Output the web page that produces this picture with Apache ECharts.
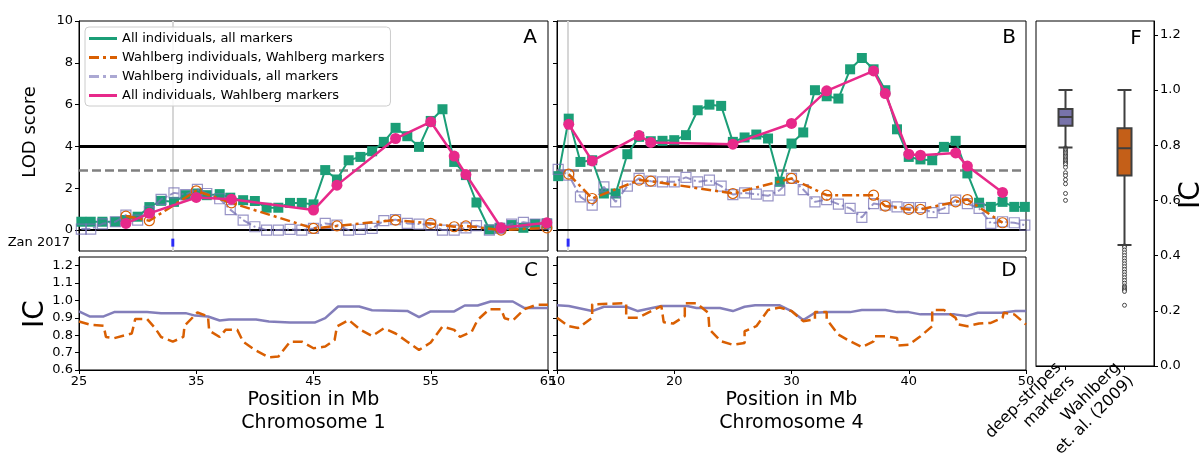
<!DOCTYPE html>
<html>
<head>
<meta charset="utf-8">
<script src="https://cdn.jsdelivr.net/npm/echarts@6/dist/echarts.min.js"></script>
<style>
  html, body { margin: 0; padding: 0; background: #fff; }
  #chart { width: 1203px; height: 461px; }
</style>
</head>
<body>
<div id="chart"></div>
<script>
// ---- data ----
// chromosome 1, LOD scores
const chr1AllPos = [25.2, 26, 27, 28.1, 29, 30, 31, 32, 33.1, 34.1, 35.1, 35.9, 37, 37.9, 39, 40, 41, 42, 43, 44, 45, 46, 47, 48, 49, 50, 51, 52, 53, 54, 55, 56, 57, 58, 58.9, 60, 60.9, 61.9, 62.9, 63.9, 64.9]
const chr1AllAll = [0.40, 0.40, 0.40, 0.40, 0.48, 0.64, 1.10, 1.40, 1.35, 1.67, 1.75, 1.67, 1.72, 1.55, 1.43, 1.39, 1.07, 1.07, 1.30, 1.30, 1.23, 2.87, 2.42, 3.34, 3.50, 3.77, 4.22, 4.89, 4.49, 3.98, 5.22, 5.78, 3.26, 2.63, 1.32, 0.03, 0.11, 0.24, 0.11, 0.29, 0.32]
const chr1WahlAll = [0.05, 0.05, 0.30, 0.40, 0.72, 0.48, 0.90, 1.47, 1.78, 1.70, 1.95, 1.75, 1.50, 0.98, 0.48, 0.16, 0.00, 0.00, 0.03, 0.00, 0.08, 0.32, 0.24, 0.00, 0.03, 0.08, 0.45, 0.50, 0.32, 0.29, 0.24, 0.00, 0.00, 0.11, 0.21, 0.00, 0.08, 0.29, 0.37, 0.29, 0.29]
const chr1WahlPos = [29, 31, 35, 38, 45, 47, 52, 55, 57, 58, 61, 64.9]
const chr1AllWahl = [0.32, 0.80, 1.56, 1.48, 0.96, 2.15, 4.38, 5.18, 3.54, 2.66, 0.11, 0.35]
const chr1WahlWahl = [0.67, 0.45, 1.88, 1.30, 0.08, 0.20, 0.48, 0.32, 0.16, 0.20, 0.00, 0.11]

// chromosome 4, LOD scores
const chr4AllPos = [10.1, 11, 12, 13, 14, 15, 16, 17, 18, 19, 20, 21, 22, 23, 24, 25, 26, 27, 28, 29, 30, 31, 32, 33, 34, 35, 36, 37, 38, 39, 40, 41, 42, 43, 44, 45, 46, 47, 48, 49, 49.9]
const chr4AllAll = [2.58, 5.33, 3.26, 3.34, 1.75, 1.75, 3.63, 4.46, 4.25, 4.27, 4.30, 4.54, 5.73, 6.00, 5.94, 4.22, 4.43, 4.57, 4.38, 2.31, 4.14, 4.67, 6.69, 6.40, 6.29, 7.69, 8.23, 7.69, 6.69, 4.82, 3.50, 3.38, 3.34, 3.98, 4.27, 2.71, 1.31, 1.11, 1.35, 1.11, 1.11]
const chr4WahlAll = [2.90, 2.63, 1.59, 1.19, 2.07, 1.35, 2.10, 2.47, 2.34, 2.31, 2.31, 2.52, 2.31, 2.39, 2.10, 1.70, 1.78, 1.72, 1.64, 1.91, 2.47, 1.94, 1.35, 1.46, 1.24, 1.04, 0.61, 1.27, 1.19, 1.11, 1.07, 1.08, 0.84, 1.04, 1.43, 1.27, 1.04, 0.32, 0.40, 0.35, 0.24]
const chr4WahlPos = [11, 13, 17, 18, 25, 30, 33, 37, 38, 40, 41, 44, 45, 48]
const chr4AllWahl = [5.06, 3.31, 4.52, 4.19, 4.11, 5.10, 6.66, 7.61, 6.53, 3.63, 3.58, 3.69, 3.06, 1.80]
const chr4WahlWahl = [2.68, 1.51, 2.39, 2.34, 1.75, 2.47, 1.67, 1.67, 1.15, 0.99, 0.99, 1.35, 1.46, 0.35]

// significance thresholds and Zan 2017 loci
const lodSolid = 4.02
const lodDashed = 2.85
const zanChr1 = [33.0]
const zanChr4 = [10.95]

// chromosome 1, IC
const chr1IcAllPos = [25, 25.9, 27.1, 28, 30.8, 32, 34.1, 34.9, 36, 37, 37.8, 40.1, 41.2, 43, 45.1, 46, 47.1, 48.9, 50, 53, 54, 55, 57, 57.9, 59, 60.1, 62, 63, 65]
const chr1IcAll = [0.937, 0.908, 0.908, 0.933, 0.933, 0.927, 0.927, 0.913, 0.908, 0.885, 0.89, 0.89, 0.879, 0.873, 0.873, 0.898, 0.965, 0.965, 0.944, 0.94, 0.904, 0.937, 0.937, 0.971, 0.971, 0.994, 0.994, 0.956, 0.956]
const chr1IcWahlPos = [25, 26, 27.1, 27.3, 28, 29.5, 29.8, 30.8, 31.5, 32, 33, 33.9, 34, 35.1, 36, 36.1, 37, 37.5, 38.5, 39, 40, 41.2, 42, 43, 44, 45, 46, 46.8, 47, 48, 49, 50, 51, 52, 53, 54, 55, 56, 57, 57.5, 58.5, 59, 60, 61, 61.3, 62, 63, 64, 65]
const chr1IcWahl = [0.879, 0.86, 0.854, 0.79, 0.783, 0.81, 0.894, 0.894, 0.84, 0.79, 0.763, 0.79, 0.854, 0.931, 0.908, 0.827, 0.79, 0.831, 0.831, 0.763, 0.715, 0.673, 0.677, 0.763, 0.763, 0.725, 0.735, 0.773, 0.85, 0.888, 0.831, 0.796, 0.84, 0.81, 0.763, 0.715, 0.758, 0.85, 0.831, 0.79, 0.821, 0.888, 0.95, 0.95, 0.898, 0.885, 0.95, 0.975, 0.975]

// chromosome 4, IC
const chr4IcAllPos = [10, 11, 13, 14, 15.9, 16.9, 18.9, 21.1, 21.9, 23.9, 25, 26, 26.9, 29, 30, 31, 32, 33.1, 35, 36, 38, 39, 40, 41, 43.9, 44.9, 45.9, 47.9, 49.1, 50]
const chr4IcAll = [0.972, 0.968, 0.939, 0.964, 0.964, 0.939, 0.968, 0.968, 0.957, 0.957, 0.939, 0.964, 0.972, 0.972, 0.939, 0.887, 0.929, 0.933, 0.933, 0.945, 0.945, 0.933, 0.933, 0.92, 0.92, 0.91, 0.929, 0.929, 0.939, 0.939]
const chr4IcWahlPos = [10, 11, 11.8, 13, 13, 15.9, 15.9, 16.9, 18.9, 19.1, 19.9, 20.9, 20.9, 21.9, 22.9, 23, 24, 25, 26, 26, 27, 28, 29, 30, 31, 32, 32, 33, 33, 34, 35, 36, 37, 37.1, 38, 39, 39.1, 40, 41, 42, 42, 43, 44, 44.2, 45, 46, 47, 48, 48.1, 49, 50]
const chr4IcWahl = [0.9, 0.852, 0.842, 0.9, 0.978, 0.984, 0.9, 0.9, 0.968, 0.875, 0.867, 0.91, 0.984, 0.984, 0.929, 0.833, 0.765, 0.745, 0.755, 0.823, 0.852, 0.945, 0.959, 0.939, 0.881, 0.891, 0.933, 0.933, 0.891, 0.803, 0.765, 0.732, 0.765, 0.794, 0.794, 0.784, 0.741, 0.745, 0.794, 0.852, 0.945, 0.945, 0.9, 0.862, 0.852, 0.867, 0.871, 0.9, 0.929, 0.92, 0.862]

// panel F, IC distributions: [lower whisker, Q1, median, Q3, upper whisker]
const boxCategories = ['deep-stripes\nmarkers', 'Wahlberg\net. al. (2009)']
const boxStats = [
    [0.792, 0.870, 0.9025, 0.931, 1.0],
    [0.438, 0.690, 0.789, 0.861, 1.0],
]
const outliersDeep = [0.79, 0.785, 0.78, 0.775, 0.77, 0.765, 0.76, 0.755, 0.75, 0.745, 0.74, 0.735, 0.73, 0.72, 0.70, 0.69, 0.675, 0.66, 0.625, 0.60]
const outliersWahl = [0.435, 0.43, 0.42, 0.41, 0.40, 0.39, 0.38, 0.37, 0.36, 0.35, 0.34, 0.33, 0.32, 0.31, 0.30, 0.29, 0.285, 0.28, 0.275, 0.27, 0.22]

const GREEN = '#1b9e77', ORANGE = '#d95f02', PURPLE = '#7570b3', PINK = '#e7298a'
const BOX_COLORS = ['#7873aa', '#c45f18']
const FONT = 'DejaVu Sans'

const names = [
    'All individuals, all markers',
    'Wahlberg individuals, Wahlberg markers',
    'Wahlberg individuals, all markers',
    'All individuals, Wahlberg markers',
]

const zip = (xs, ys) => xs.map((x, i) => [x, ys[i]])

function lodSeries(idx, allPos, allAll, wahlAll, wahlPos, allWahl, wahlWahl, zan) {
    return [
        {
            type: 'line', xAxisIndex: idx, yAxisIndex: idx, data: [], z: 1, silent: true,
            markLine: {
                symbol: 'none', silent: true, label: { show: false }, z: 1,
                data: [
                    ...zan.map(p => ({ xAxis: p, lineStyle: { color: '#d6d6d6', width: 2, type: 'solid' } })),
                    { yAxis: lodSolid, lineStyle: { color: '#000', width: 3, type: 'solid' } },
                    { yAxis: lodDashed, lineStyle: { color: '#808080', width: 2.5, type: [9, 4] } },
                    { yAxis: 0, lineStyle: { color: '#000', width: 2, type: 'solid' } },
                ],
            },
        },
        {
            type: 'scatter', xAxisIndex: idx, yAxisIndex: idx, silent: true,
            data: zan.map(p => [p, -0.6]), symbol: 'rect', symbolSize: [3, 8],
            itemStyle: { color: '#0000ff' }, z: 7,
        },
        {
            name: names[0], type: 'line', xAxisIndex: idx, yAxisIndex: idx, z: 3,
            data: zip(allPos, allAll), symbol: 'rect', symbolSize: 10,
            lineStyle: { color: GREEN, width: 2 }, itemStyle: { color: GREEN },
        },
        {
            name: names[2], type: 'line', xAxisIndex: idx, yAxisIndex: idx, z: 4,
            data: zip(allPos, wahlAll), symbol: 'rect', symbolSize: 10,
            lineStyle: { color: PURPLE, width: 2, type: [9, 3, 2, 3], opacity: 0.75 },
            itemStyle: { color: 'rgba(0,0,0,0)', borderColor: PURPLE, borderWidth: 1.2, opacity: 0.75 },
        },
        {
            name: names[1], type: 'line', xAxisIndex: idx, yAxisIndex: idx, z: 5,
            data: zip(wahlPos, wahlWahl), symbol: 'circle', symbolSize: 10,
            lineStyle: { color: ORANGE, width: 2.5, type: [10, 4, 3, 4] },
            itemStyle: { color: 'rgba(0,0,0,0)', borderColor: ORANGE, borderWidth: 1.2 },
        },
        {
            name: names[3], type: 'line', xAxisIndex: idx, yAxisIndex: idx, z: 6,
            data: zip(wahlPos, allWahl), symbol: 'circle', symbolSize: 11,
            lineStyle: { color: PINK, width: 2.5 }, itemStyle: { color: PINK },
        },
    ]
}

function icSeries(idx, allPos, all, wahlPos, wahl) {
    return [
        {
            type: 'line', xAxisIndex: idx, yAxisIndex: idx, data: zip(allPos, all), showSymbol: false,
            lineStyle: { color: PURPLE, width: 2.5, opacity: 0.9 }, z: 3,
        },
        {
            type: 'line', xAxisIndex: idx, yAxisIndex: idx, data: zip(wahlPos, wahl), showSymbol: false,
            lineStyle: { color: ORANGE, width: 2.5, type: [10, 5] }, z: 4,
        },
    ]
}

const axisLineBlack = { show: true, lineStyle: { color: '#000', width: 1 } }
const tickOut = { show: true, inside: false, length: 4, lineStyle: { color: '#000' } }
const labelStyle = { color: '#000', fontSize: 13, fontFamily: FONT }
const oneDec = v => v.toFixed(1)

function xVal(idx, min, max, ticks, showLabels, name) {
    return {
        type: 'value', gridIndex: idx, min: min, max: max,
        splitLine: { show: false }, axisLine: axisLineBlack,
        axisTick: showLabels ? Object.assign({ customValues: ticks }, tickOut) : { show: false },
        axisLabel: showLabels ? Object.assign({ customValues: ticks, margin: 5, showMinLabel: true, showMaxLabel: true }, labelStyle) : { show: false },
        name: name || '', nameLocation: 'middle', nameGap: 15,
        nameTextStyle: { color: '#000', fontSize: 19, lineHeight: 23, fontFamily: FONT },
    }
}

function yVal(idx, min, max, ticks, showLabels, fmt, position) {
    return {
        type: 'value', gridIndex: idx, min: min, max: max, position: position || 'left',
        splitLine: { show: false }, axisLine: axisLineBlack,
        axisTick: Object.assign({ customValues: ticks }, tickOut),
        axisLabel: Object.assign({ show: showLabels, customValues: ticks, margin: 6, formatter: fmt }, labelStyle),
    }
}

const lodTicks = [0, 2, 4, 6, 8, 10]
const icTicks = [0.6, 0.7, 0.8, 0.9, 1.0, 1.1, 1.2]
const fTicks = [0, 0.2, 0.4, 0.6, 0.8, 1.0, 1.2]

const gridBox = { show: true, borderColor: '#000', borderWidth: 1, backgroundColor: 'transparent' }

const chart = echarts.init(document.getElementById('chart'), null, { renderer: 'canvas' })

chart.setOption({
    animation: false,
    textStyle: { fontFamily: FONT },
    grid: [
        Object.assign({ left: 79, top: 21, width: 469, height: 230 }, gridBox),
        Object.assign({ left: 557, top: 21, width: 469, height: 230 }, gridBox),
        Object.assign({ left: 79, top: 257, width: 469, height: 113 }, gridBox),
        Object.assign({ left: 557, top: 257, width: 469, height: 113 }, gridBox),
        Object.assign({ left: 1036, top: 21, width: 118, height: 349 }, gridBox),
    ],
    xAxis: [
        xVal(0, 25, 65, [25, 35, 45, 55, 65], false),
        xVal(1, 10, 50, [10, 20, 30, 40, 50], false),
        xVal(2, 25, 65, [25, 35, 45, 55, 65], true, 'Position in Mb\nChromosome 1'),
        xVal(3, 10, 50, [10, 20, 30, 40, 50], true, 'Position in Mb\nChromosome 4'),
        {
            type: 'category', gridIndex: 4, data: boxCategories,
            axisLine: axisLineBlack,
            axisTick: Object.assign({ alignWithLabel: true }, tickOut),
            axisLabel: Object.assign({}, labelStyle, { fontSize: 16, lineHeight: 19, rotate: 45, margin: 6, interval: 0 }),
        },
    ],
    yAxis: [
        yVal(0, -1, 10, lodTicks, true, v => String(v)),
        yVal(1, -1, 10, lodTicks, false, v => String(v)),
        yVal(2, 0.6, 1.25, icTicks, true, oneDec),
        yVal(3, 0.6, 1.25, icTicks, false, oneDec),
        yVal(4, 0, 1.25, fTicks, true, oneDec, 'right'),
    ],
    legend: {
        left: 85, top: 27, orient: 'vertical',
        padding: [4, 6, 3, 4], itemGap: 4, itemWidth: 28, itemHeight: 3,
        backgroundColor: 'rgba(255,255,255,0.85)', borderColor: '#cccccc', borderWidth: 1, borderRadius: 4,
        textStyle: { fontSize: 13, lineHeight: 15, color: '#000', fontFamily: FONT },
        data: [
            { name: names[0], icon: 'path://M0,0H28V3H0Z', itemStyle: { color: GREEN, borderWidth: 0 } },
            { name: names[1], icon: 'path://M0,0H10V3H0Z M14,0H17V3H14Z M21,0H28V3H21Z', itemStyle: { color: ORANGE, borderWidth: 0 } },
            { name: names[2], icon: 'path://M0,0H10V3H0Z M14,0H17V3H14Z M21,0H28V3H21Z', itemStyle: { color: '#8f8bc4', borderWidth: 0 } },
            { name: names[3], icon: 'path://M0,0H28V3H0Z', itemStyle: { color: PINK, borderWidth: 0 } },
        ],
        selectedMode: false,
    },
    series: [
        ...lodSeries(0, chr1AllPos, chr1AllAll, chr1WahlAll, chr1WahlPos, chr1AllWahl, chr1WahlWahl, zanChr1),
        ...lodSeries(1, chr4AllPos, chr4AllAll, chr4WahlAll, chr4WahlPos, chr4AllWahl, chr4WahlWahl, zanChr4),
        ...icSeries(2, chr1IcAllPos, chr1IcAll, chr1IcWahlPos, chr1IcWahl),
        ...icSeries(3, chr4IcAllPos, chr4IcAll, chr4IcWahlPos, chr4IcWahl),
        {
            type: 'boxplot', xAxisIndex: 4, yAxisIndex: 4, boxWidth: [14, 14], z: 3,
            data: boxStats.map((s, i) => ({
                value: s,
                itemStyle: { color: BOX_COLORS[i], borderColor: '#3f3f3f', borderWidth: 2 },
            })),
        },
        {
            type: 'scatter', xAxisIndex: 4, yAxisIndex: 4, symbol: 'circle', symbolSize: 4, z: 2,
            data: [...outliersDeep.map(v => [0, v]), ...outliersWahl.map(v => [1, v])],
            itemStyle: { color: '#fff', borderColor: '#222', borderWidth: 1 },
        },
    ],
    graphic: [
        { type: 'text', x: 30, y: 132, rotation: Math.PI / 2, style: { text: 'LOD score', fontSize: 18, fontFamily: FONT, fill: '#000', align: 'center', verticalAlign: 'middle' } },
        { type: 'text', x: 36, y: 314, rotation: Math.PI / 2, style: { text: 'IC', fontSize: 28, fontFamily: FONT, fill: '#000', align: 'center', verticalAlign: 'middle' } },
        { type: 'text', x: 1192, y: 195, rotation: Math.PI / 2, style: { text: 'IC', fontSize: 28, fontFamily: FONT, fill: '#000', align: 'center', verticalAlign: 'middle' } },
        { type: 'text', x: 70, y: 243, style: { text: 'Zan 2017', fontSize: 13, fontFamily: FONT, fill: '#000', align: 'right', verticalAlign: 'middle' } },
        { type: 'text', x: 530, y: 38, style: { text: 'A', fontSize: 20, fontFamily: FONT, fill: '#000', align: 'center', verticalAlign: 'middle' } },
        { type: 'text', x: 1009, y: 38, style: { text: 'B', fontSize: 20, fontFamily: FONT, fill: '#000', align: 'center', verticalAlign: 'middle' } },
        { type: 'text', x: 531, y: 271, style: { text: 'C', fontSize: 20, fontFamily: FONT, fill: '#000', align: 'center', verticalAlign: 'middle' } },
        { type: 'text', x: 1009, y: 271, style: { text: 'D', fontSize: 20, fontFamily: FONT, fill: '#000', align: 'center', verticalAlign: 'middle' } },
        { type: 'text', x: 1136, y: 39, style: { text: 'F', fontSize: 20, fontFamily: FONT, fill: '#000', align: 'center', verticalAlign: 'middle' } },
    ],
})
</script>
</body>
</html>
